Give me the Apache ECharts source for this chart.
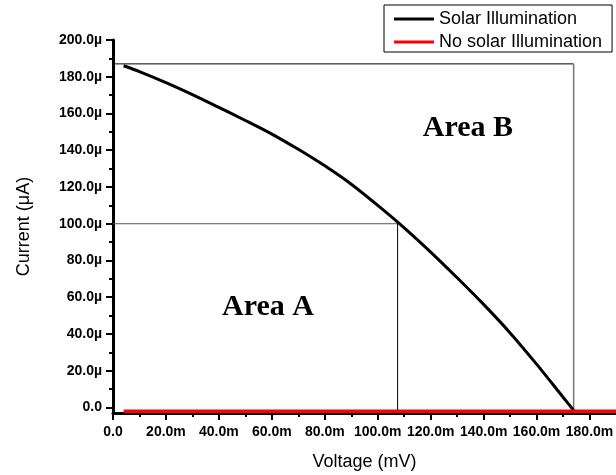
<!DOCTYPE html>
<html>
<head>
<meta charset="utf-8">
<script src="https://cdn.jsdelivr.net/npm/echarts@6/dist/echarts.min.js"></script>
<style>
  html, body { margin: 0; padding: 0; background: #fff; }
  #main { width: 616px; height: 475px; }
</style>
</head>
<body>
<div id="main"></div>
<script>
// I-V curve (voltage in mV, current in uA)
var voltage = [4, 10, 20, 30, 40, 50, 60, 70, 80, 90, 100, 110, 120, 130, 140, 150, 160, 170, 174];
var current = [186, 182.8, 176.8, 170.3, 163.3, 156.2, 148.8, 140.5, 131.5, 121.5, 110, 97.8, 84.6, 70.6, 56.1, 40.6, 23.6, 5.6, -1.6];

// dark curve, flat near zero
var darkVoltage = [4, 190];
var darkCurrent = [-2, -2];

// rectangles: short-circuit current / open-circuit voltage, and max power point
var isc = 187, voc = 174;
var mppV = 107.5, mppI = 100;

var xTicks = [0, 20, 40, 60, 80, 100, 120, 140, 160, 180];
var xMinor = [10, 30, 50, 70, 90, 110, 130, 150, 170];
var yTicks = [0, 20, 40, 60, 80, 100, 120, 140, 160, 180, 200];
var yMinor = [10, 30, 50, 70, 90, 110, 130, 150, 170, 190];

var xMin = 0, xMax = 190, yMin = -3, yMax = 200;

function zip(a, b) {
    var out = [];
    for (var i = 0; i < a.length; i++) out.push([a[i], b[i]]);
    return out;
}

var myChart = echarts.init(document.getElementById('main'));

var labelFont = {
    color: '#000',
    fontFamily: 'Liberation Sans',
    fontWeight: 'bold',
    fontSize: 14
};

myChart.setOption({
    animation: false,
    grid: { left: 113, right: 0, top: 40, bottom: 62, containLabel: false, outerBoundsMode: 'none' },
    legend: {
        data: [
            { name: 'Solar Illumination', icon: 'rect' },
            { name: 'No solar Illumination', icon: 'rect' }
        ],
        orient: 'vertical',
        left: 384,
        top: 5,
        padding: [5, 10, 1, 10],
        itemGap: 5,
        itemWidth: 40,
        itemHeight: 3,
        borderColor: '#000',
        borderWidth: 1,
        borderRadius: 0,
        textStyle: { color: '#000', fontFamily: 'Liberation Sans', fontSize: 18 }
    },
    xAxis: [{
        type: 'value',
        min: xMin,
        max: xMax,
        name: 'Voltage (mV)',
        nameLocation: 'middle',
        nameGap: 40,
        nameTextStyle: { color: '#000', fontFamily: 'Liberation Sans', fontSize: 18 },
        axisLine: { show: true, onZero: false, lineStyle: { color: '#000', width: 3 } },
        axisTick: { show: true, customValues: xTicks, length: 7, lineStyle: { color: '#000', width: 2 } },
        axisLabel: Object.assign({
            customValues: xTicks,
            margin: 12,
            formatter: function (v) { return v === 0 ? '0.0' : v.toFixed(1) + 'm'; }
        }, labelFont),
        splitLine: { show: false }
    }, {
        type: 'value',
        min: xMin,
        max: xMax,
        position: 'bottom',
        axisLine: { show: false, onZero: false },
        axisTick: { show: true, customValues: xMinor, length: 4, lineStyle: { color: '#000', width: 2 } },
        axisLabel: { show: false },
        splitLine: { show: false }
    }],
    yAxis: [{
        type: 'value',
        min: yMin,
        max: yMax,
        name: 'Current (\u03bcA)',
        nameLocation: 'middle',
        nameGap: 80,
        nameTextStyle: { color: '#000', fontFamily: 'Liberation Sans', fontSize: 18 },
        axisLine: { show: true, onZero: false, lineStyle: { color: '#000', width: 3 } },
        axisTick: { show: true, customValues: yTicks, length: 7, lineStyle: { color: '#000', width: 2 } },
        axisLabel: Object.assign({
            customValues: yTicks,
            margin: 11,
            formatter: function (v) { return v === 0 ? '0.0' : v.toFixed(1) + '\u00b5'; }
        }, labelFont),
        splitLine: { show: false }
    }, {
        type: 'value',
        min: yMin,
        max: yMax,
        position: 'left',
        axisLine: { show: false, onZero: false },
        axisTick: { show: true, customValues: yMinor, length: 4, lineStyle: { color: '#000', width: 2 } },
        axisLabel: { show: false },
        splitLine: { show: false }
    }],
    graphic: [
        { type: 'text', x: 268, y: 307, style: { text: 'Area A', fill: '#000', font: 'bold 30px "Liberation Serif"', textAlign: 'center', textVerticalAlign: 'middle' } },
        { type: 'text', x: 468, y: 128, style: { text: 'Area B', fill: '#000', font: 'bold 30px "Liberation Serif"', textAlign: 'center', textVerticalAlign: 'middle' } }
    ],
    series: [
        {
            name: 'AreaB-top',
            type: 'line',
            data: [[xMin, isc], [voc, isc]],
            symbol: 'none',
            silent: true,
            lineStyle: { color: '#000', width: 1 },
            z: 1
        },
        {
            name: 'AreaB-side',
            type: 'line',
            data: [[voc, isc], [voc, yMin]],
            symbol: 'none',
            silent: true,
            lineStyle: { color: '#777', width: 1.5 },
            z: 1
        },
        {
            name: 'AreaA-top',
            type: 'line',
            data: [[xMin, mppI], [mppV, mppI]],
            symbol: 'none',
            silent: true,
            lineStyle: { color: '#555', width: 1 },
            z: 1
        },
        {
            name: 'AreaA-side',
            type: 'line',
            data: [[mppV, mppI], [mppV, yMin]],
            symbol: 'none',
            silent: true,
            lineStyle: { color: '#000', width: 1 },
            z: 1
        },
        {
            name: 'Solar Illumination',
            type: 'line',
            data: zip(voltage, current),
            smooth: 0.3,
            symbol: 'none',
            itemStyle: { color: '#000' },
            lineStyle: { color: '#000', width: 3 },
            z: 3
        },
        {
            name: 'No solar Illumination',
            type: 'line',
            data: zip(darkVoltage, darkCurrent),
            symbol: 'none',
            itemStyle: { color: '#ff0000' },
            lineStyle: { color: '#ff0000', width: 3.5 },
            z: 4
        }
    ]
});
</script>
</body>
</html>
